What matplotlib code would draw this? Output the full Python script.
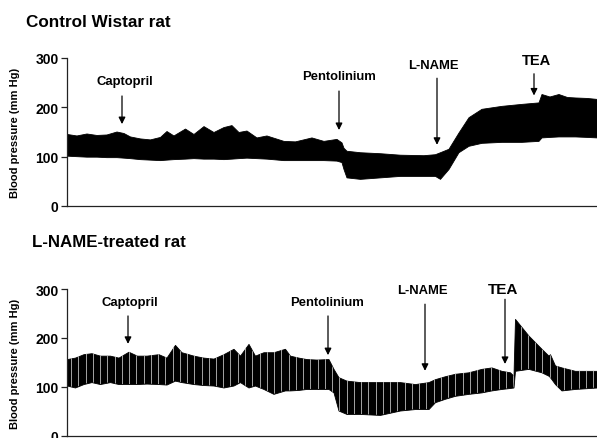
import matplotlib.pyplot as plt
import numpy as np

plt.rcParams['font.family'] = ['Liberation Sans', 'DejaVu Sans']
plt.rcParams['font.weight'] = 'bold'

# Control Wistar rat: time (min), systolic and diastolic envelope (mm Hg)
control_t = [0, 1.9, 3.9, 5.9, 7.9, 9.9, 11.3, 12.6, 14.6, 16.6, 18.6, 19.9,
             21.3, 23.6, 25.3, 27.3, 29.3, 31.3, 32.9, 34.3, 35.9, 37.9, 39.9,
             43.3, 45.6, 48.9, 51.3, 53.9, 54.9, 55.3, 55.9, 58.6, 62.6, 66.6,
             71.3, 73.6, 74.6, 76.3, 78.3, 80.3, 82.9, 86.9, 90.9, 94.3, 94.9,
             96.5, 98.3, 100, 101.6, 104, 106]
control_sys = [146, 143, 147, 144, 145, 151, 148, 141, 137, 135, 140, 152,
               143, 157, 146, 162, 150, 160, 164, 150, 153, 139, 143,
               132, 131, 139, 132, 136, 129, 118, 112, 109, 107, 104,
               103, 105, 109, 116, 149, 180, 197, 203, 207, 210, 227,
               222, 227, 221, 220, 219, 217]
control_dia = [102, 101, 100, 100, 99, 99, 98, 97, 95, 94, 93, 94,
               95, 96, 97, 96, 96, 95, 96, 97, 98, 97, 96,
               93, 93, 93, 93, 92, 89, 75, 58, 55, 58, 61,
               61, 61, 55, 75, 109, 122, 128, 130, 130, 132, 139,
               140, 141, 141, 141, 140, 139]

# L-NAME-treated rat
lname_t = [0, 1.6, 3.3, 4.9, 6.6, 8.6, 10.3, 12.3, 14, 15.9, 18.3, 19.9,
           21.6, 22.9, 25.3, 27.3, 29.3, 31.3, 33.3, 34.6, 36.3, 37.6, 39.3,
           41.3, 43.6, 44.6, 46.3, 47.9, 49.9, 52.3, 53.3, 54.3, 55.9, 58.6,
           62.6, 66.6, 69.6, 72.3, 73.6, 75.6, 77.6, 80.3, 82.9, 84.9, 86.9,
           88.6, 89.3, 89.6, 92.3, 94.9, 96.3, 96.6, 97.6, 98.9, 101.6, 106]
lname_sys = [157, 160, 167, 169, 164, 164, 160, 172, 164, 164, 167, 160,
             186, 171, 164, 160, 158, 167, 178, 164, 188, 164, 171,
             171, 178, 164, 160, 157, 156, 157, 137, 120, 113, 110,
             110, 110, 106, 110, 116, 122, 127, 130, 137, 140, 133,
             130, 123, 239, 205, 178, 164, 167, 144, 140, 133, 133]
lname_dia = [103, 99, 106, 110, 106, 110, 106, 106, 106, 107, 106, 105,
             113, 110, 106, 104, 103, 99, 103, 110, 99, 103, 96,
             86, 93, 93, 94, 96, 96, 96, 89, 52, 45, 45,
             43, 52, 55, 55, 69, 76, 82, 86, 89, 93, 96,
             98, 99, 133, 137, 130, 123, 120, 106, 93, 96, 99]

drugs = ['Captopril', 'Pentolinium', 'L-NAME', 'TEA']
control_drug_t = [11.0, 54.4, 74.0, 93.4]
lname_drug_t = [12.2, 52.2, 71.6, 87.6]

yticks = [0, 100, 200, 300]


def draw_panel(ax, t, sys_bp, dia_bp, drug_t, arrows, beat_gap=None):
    trace = ax.fill_between(t, dia_bp, sys_bp, facecolor='black',
                            edgecolor='black', lw=0.6)
    if beat_gap:
        # pale gaps between the individual pulse strokes of the recorder
        gaps = ax.vlines(np.arange(0.8, t[-1], beat_gap), 0, 300,
                         colors='#bdbdbd', lw=0.6)
        gaps.set_clip_path(trace.get_paths()[0], ax.transData)

    # (label offset, arrow start, arrow tip, label baseline, label size)
    for name, x, (dx, y0, y1, ytxt, fs) in zip(drugs, drug_t, arrows):
        ax.annotate('', xy=(x, y1), xytext=(x, y0), annotation_clip=False,
                    arrowprops=dict(arrowstyle='-|>', color='black', lw=0.9,
                                    mutation_scale=10, shrinkA=0, shrinkB=0))
        ax.text(x + dx, ytxt, name, ha='center', va='baseline', fontsize=fs,
                fontweight='bold', clip_on=False)

    ax.set_xlim(0, 106)
    ax.set_ylim(0, 300)
    ax.set_yticks(yticks)
    ax.set_xticks([])
    for side in ('top', 'right'):
        ax.spines[side].set_visible(False)
    for side in ('left', 'bottom'):
        ax.spines[side].set_color('#222222')
        ax.spines[side].set_linewidth(0.9)
    ax.tick_params(axis='y', direction='out', length=4, width=0.9,
                   labelsize=10, pad=2, color='#222222')
    ax.set_ylabel('Blood pressure (mm Hg)', fontsize=8, fontweight='bold')
    ax.yaxis.set_label_coords(-0.088, 0.5)


fig = plt.figure(figsize=(5.97, 4.39), dpi=100)
ax1 = fig.add_axes([67 / 597, 1 - 207 / 439, 530 / 597, 148 / 439])
ax2 = fig.add_axes([67 / 597, 1 - 437 / 439, 530 / 597, 147 / 439])

draw_panel(ax1, control_t, control_sys, control_dia, control_drug_t,
           [(0.6, 223, 166, 247, 9.4), (0, 233, 154, 257, 9.4),
            (-0.8, 259, 124, 279, 9.4), (0.6, 268, 224, 288, 10.5)])
draw_panel(ax2, lname_t, lname_sys, lname_dia, lname_drug_t,
           [(0.4, 245, 188, 268, 9.4), (-0.2, 245, 165, 267, 9.4),
            (-0.6, 269, 133, 292, 9.4), (-0.4, 279, 147, 292, 11)],
           beat_gap=1.45)

fig.text(26 / 597, 1 - 26.7 / 439, 'Control Wistar rat', fontsize=12.3,
         fontweight='bold', va='baseline')
fig.text(31.7 / 597, 1 - 246.7 / 439, 'L-NAME-treated rat', fontsize=12.2,
         fontweight='bold', va='baseline')

fig.savefig('out.png', dpi=100)
